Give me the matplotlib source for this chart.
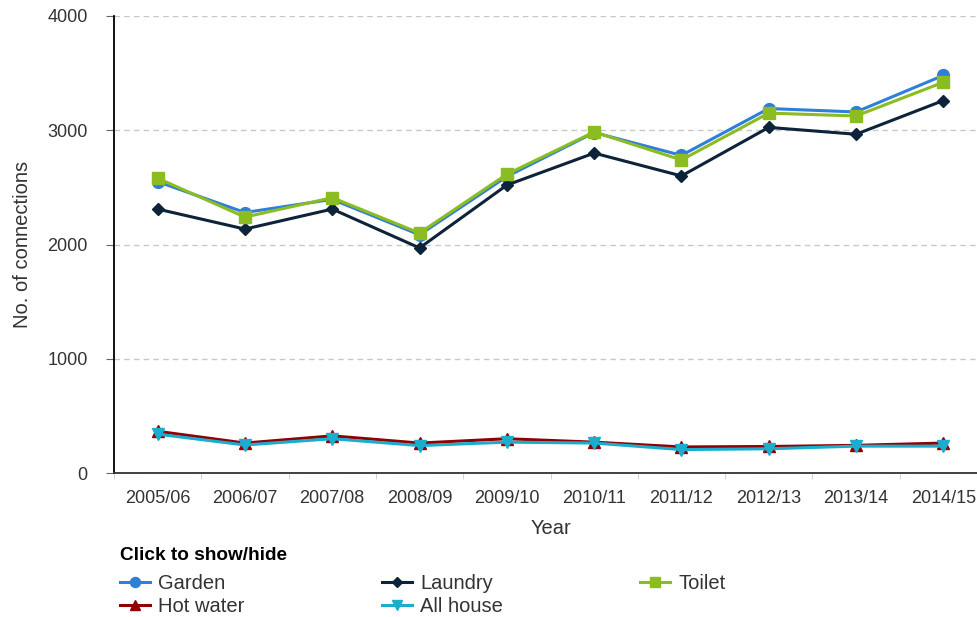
import matplotlib
matplotlib.use("Agg")
import matplotlib.pyplot as plt
import numpy as np

plt.rcParams['font.family'] = ['Liberation Sans', 'DejaVu Sans']

# 年份
years = ["2005/06", "2006/07", "2007/08", "2008/09", "2009/10",
         "2010/11", "2011/12", "2012/13", "2013/14", "2014/15"]

garden = [2550, 2280, 2395, 2085, 2595, 2980, 2780, 3190, 3160, 3480]
laundry = [2310, 2135, 2310, 1970, 2520, 2800, 2600, 3025, 2965, 3260]
toilet = [2580, 2240, 2410, 2100, 2615, 2985, 2740, 3150, 3125, 3420]
hot_water = [365, 262, 325, 262, 300, 270, 228, 232, 242, 262]
all_house = [340, 245, 300, 240, 270, 262, 205, 212, 235, 235]

series = [
    ("Garden", garden, "#2f7ed8", "o", 8.5),
    ("Laundry", laundry, "#0d233a", "D", 6.5),
    ("Toilet", toilet, "#8bbc21", "s", 8.5),
    ("Hot water", hot_water, "#910000", "^", 8),
    ("All house", all_house, "#1aadce", "v", 8),
]

fig = plt.figure(figsize=(9.77, 6.17), dpi=100)
ax = fig.add_axes([114 / 977, 1 - 473 / 617, 873 / 977, 457 / 617])

x = np.arange(len(years))
handles = {}
for name, vals, color, marker, ms in series:
    h, = ax.plot(x, vals, color=color, lw=2.2, marker=marker, markersize=ms,
                 markeredgecolor=color, label=name)
    handles[name] = h

ax.set_xlim(-0.5, len(years) - 0.5)
ax.set_ylim(0, 4000)
ax.set_yticks([0, 1000, 2000, 3000, 4000])
ax.set_xticks(x)
ax.set_xticklabels(years)
ax.set_xticks(np.arange(-0.5, len(years)), minor=True)
ax.tick_params(axis='x', which='major', length=0, pad=12, labelsize=13, labelcolor="#333333")
ax.tick_params(axis='x', which='minor', length=4, color="#c0d0e0")
ax.tick_params(axis='y', length=6, color="#666666", labelsize=13, labelcolor="#333333", pad=13)

ax.grid(axis='y', color="#c8c8c8", linestyle=(0, (4, 3)), lw=1)
ax.set_axisbelow(True)
for s in ("top", "right"):
    ax.spines[s].set_visible(False)
ax.spines["left"].set_color("#000000")
ax.spines["left"].set_linewidth(1.3)
ax.spines["bottom"].set_color("#333333")
ax.spines["bottom"].set_linewidth(1.3)

ax.set_xlabel("Year", fontsize=14.5, color="#333333", labelpad=9)
ax.set_ylabel("No. of connections", fontsize=14.5, color="#333333", labelpad=11)

# 图例标题单独画
fig.text(120 / 977, 1 - 555 / 617, "Click to show/hide", fontsize=13.7,
         fontweight="bold", ha="left", va="center")

order = ["Garden", "Hot water", "Laundry", "All house", "Toilet"]
leg = fig.legend([handles[n] for n in order], order, ncol=3,
                 loc="upper left", bbox_to_anchor=(106 / 977, 1 - 560 / 617),
                 frameon=False, fontsize=14.5,
                 columnspacing=6.8, handlelength=1.5,
                 handletextpad=0.4, labelspacing=0.2, borderpad=0.2,
                 markerscale=0.85)
for t in leg.get_texts():
    t.set_color("#333333")

fig.savefig("out.png", dpi=100)
